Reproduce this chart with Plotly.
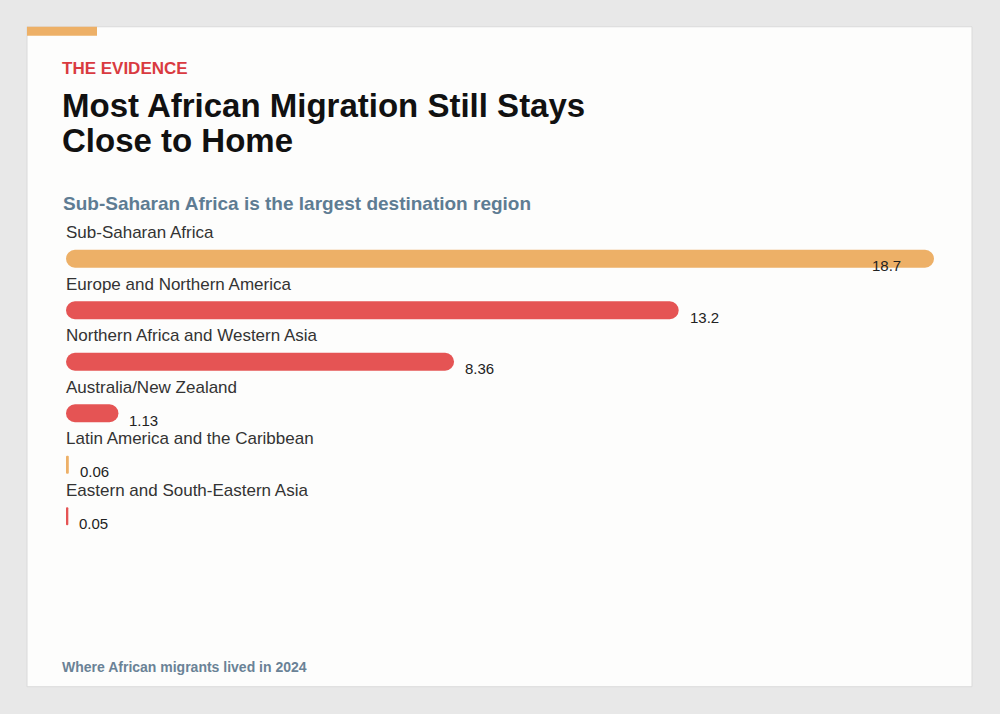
import plotly.graph_objects as go

regions = ["Sub-Saharan Africa", "Europe and Northern America", "Northern Africa and Western Asia",
           "Australia/New Zealand", "Latin America and the Caribbean", "Eastern and South-Eastern Asia"]
migrants_m = [18.7, 13.2, 8.36, 1.13, 0.06, 0.05]
value_labels = ["18.7", "13.2", "8.36", "1.13", "0.06", "0.05"]
bar_colors = ["#EDB067", "#E55454", "#E55454", "#E55454", "#EDB067", "#E55454"]
title_lines = ["Most African Migration Still Stays", "Close to Home"]

W, H = 1000, 714
ML, MR, MT, MB = 66, 66, 233.25, 171.75
PW, PH = W - ML - MR, H - MT - MB

def px(x):
    return (x - ML) / PW

def py(y):
    return (H - MB - y) / PH

FONT = "Liberation Sans, Arial, Helvetica, sans-serif"
pos = list(range(len(regions)))

fig = go.Figure()
fig.add_trace(go.Bar(y=pos, x=migrants_m, base=[0.0] * len(regions), orientation="h", width=0.35,
                     marker=dict(color=bar_colors, cornerradius="50%", line=dict(width=0)),
                     hoverinfo="skip", showlegend=False))

ann = []
max_v = max(migrants_m)
for i, (r, v, lab) in enumerate(zip(regions, migrants_m, value_labels)):
    ann.append(dict(x=0, y=i, xref="x", yref="y", text=r, showarrow=False, xanchor="left",
                    yanchor="middle", xshift=-2, yshift=26, font=dict(family=FONT, size=17, color="#333333")))
    inside = v > 0.9 * max_v
    ann.append(dict(x=v, y=i, xref="x", yref="y", text=lab, showarrow=False,
                    xanchor="right" if inside else "left", xshift=-31 if inside else 9,
                    yanchor="middle", yshift=-7, font=dict(family=FONT, size=15, color="#222222")))

ann += [
    dict(x=px(60), y=py(69), xref="paper", yref="paper", text="<b>THE EVIDENCE</b>", showarrow=False,
         xanchor="left", yanchor="middle", font=dict(family=FONT, size=17, color="#D93A40")),
    dict(x=px(60), y=py(106), xref="paper", yref="paper", text="<b>" + title_lines[0] + "</b>",
         showarrow=False, xanchor="left", yanchor="middle", font=dict(family=FONT, size=33, color="#111111")),
    dict(x=px(60), y=py(141), xref="paper", yref="paper", text="<b>" + title_lines[1] + "</b>",
         showarrow=False, xanchor="left", yanchor="middle", font=dict(family=FONT, size=33, color="#111111")),
    dict(x=px(61), y=py(204), xref="paper", yref="paper",
         text="<b>Sub-Saharan Africa is the largest destination region</b>", showarrow=False,
         xanchor="left", yanchor="middle", font=dict(family=FONT, size=19, color="#5E7C93")),
    dict(x=px(60), y=py(667), xref="paper", yref="paper",
         text="<b>Where African migrants lived in 2024</b>", showarrow=False,
         xanchor="left", yanchor="middle", font=dict(family=FONT, size=14, color="#6A8296")),
]

shapes = [
    dict(type="rect", xref="paper", yref="paper", x0=px(27), x1=px(972), y0=py(687), y1=py(27),
         fillcolor="#FDFDFC", line=dict(color="#DADADA", width=1), layer="below"),
    dict(type="rect", xref="paper", yref="paper", x0=px(27), x1=px(97), y0=py(36), y1=py(27),
         fillcolor="#EDB067", line=dict(width=0), layer="below"),
]

fig.update_layout(
    width=W, height=H, margin=dict(l=ML, r=MR, t=MT, b=MB),
    paper_bgcolor="#E8E8E8", plot_bgcolor="rgba(0,0,0,0)",
    barmode="overlay", annotations=ann, shapes=shapes,
    xaxis=dict(range=[0, max_v], visible=False, fixedrange=True),
    yaxis=dict(range=[len(regions) - 0.5, -0.5], visible=False, fixedrange=True),
    font=dict(family=FONT),
)

fig.write_html("out.html", config={"displayModeBar": False})
